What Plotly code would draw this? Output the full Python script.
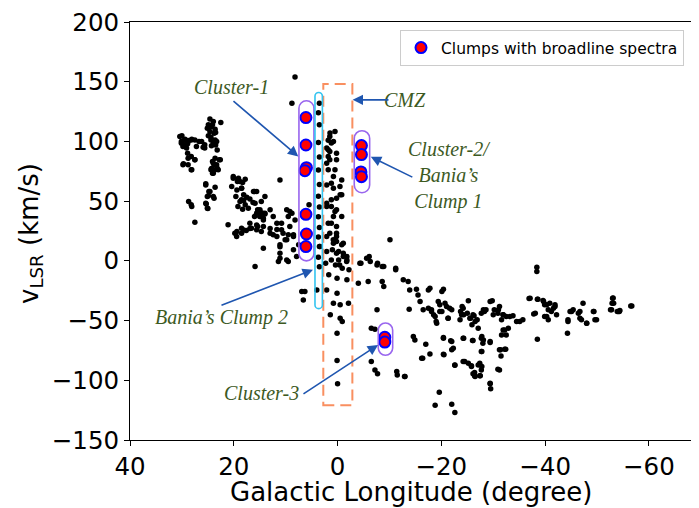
import plotly.graph_objects as go

# ---------------- data (Galactic longitude [deg], v_LSR [km/s]) ----------------
# background clumps, grouped by region of the l-v diagram
clumps_far_left = [
    (24.6, 118.7), (23.95, 116.7), (22.5, 115.8), (24.9, 113.9), (24.3, 112.5), (23.6, 110.3),
    (24.6, 108.3), (23.5, 107.5), (24.9, 104.8), (24.4, 103.6), (30.0, 104.7), (30.1, 99.9),
    (29.4, 101.9), (28.8, 100.8), (28.1, 101.9), (27.5, 101.3), (26.7, 99.9), (29.5, 97.2),
    (28.9, 98.0), (25.9, 95.2), (25.6, 97.2), (23.6, 101.3), (23.95, 98.6), (23.3, 99.9),
    (24.3, 96.3), (28.9, 90.2), (28.2, 87.4), (27.5, 84.6), (29.7, 81.3), (28.8, 80.4),
    (28.1, 76.2), (23.6, 85.9), (22.6, 84.6), (23.95, 81.8), (23.3, 80.4), (24.3, 77.4),
    (23.6, 76.2), (23.0, 76.2), (23.95, 73.4), (25.4, 64.5), (23.6, 61.7), (24.6, 58.1),
    (24.9, 54.5), (23.95, 53.9), (28.7, 49.7), (28.1, 45.5), (25.3, 47.7), (25.0, 43.8),
    (27.5, 32.4), (30.4, 104.1), (30.1, 98.5), (29.5, 101.3), (28.8, 99.9), (28.2, 101.3),
    (29.1, 94.4), (29.8, 95.8), (27.2, 95.8), (26.2, 99.9), (25.6, 94.4), (28.8, 86.0),
    (27.5, 84.6), (29.8, 80.4), (28.2, 76.2), (24.1, 113.9), (25.1, 111.1), (23.8, 106.9),
    (24.4, 101.3), (23.2, 92.9), (23.5, 97.1), (24.1, 83.2), (22.8, 84.6), (23.8, 80.4),
    (24.4, 76.2), (23.2, 77.6), (24.1, 73.4), (25.4, 63.6), (24.8, 58.0), (25.1, 53.8),
    (23.8, 52.4), (25.4, 48.2), (25.1, 44.0), (28.2, 46.9),
]

clumps_inner_left = [
    (19.1, 69.2), (17.8, 68.4), (19.3, 66.4), (18.3, 65.6), (18.5, 60.9), (17.5, 53.3),
    (18.1, 50.6), (16.9, 51.7), (17.8, 46.9), (17.2, 44.1), (18.3, 43.3), (16.0, 58.1),
    (14.7, 49.7), (16.3, 48.8), (15.4, 42.7), (14.4, 39.9), (15.0, 37.1), (16.0, 37.1),
    (21.1, 30.2), (19.45, 20.4), (18.5, 23.2), (17.6, 25.4), (16.6, 27.4), (15.4, 28.8),
    (14.7, 24.6), (15.9, -4.8), (20.1, 69.2), (18.8, 66.5), (19.4, 59.4), (18.1, 55.3),
    (18.8, 49.7), (16.2, 58.0), (15.9, 48.3), (14.96, 42.7), (14.0, 39.9), (13.0, 42.7),
    (14.3, 35.7), (12.4, 37.1), (11.1, 67.8), (9.2, 41.3), (9.5, 37.1), (8.2, 34.3),
    (10.8, 31.5), (11.7, 26.2), (13.0, 27.1), (14.3, 28.7), (15.6, 30.1), (16.9, 27.1),
    (18.1, 25.9), (19.4, 24.6), (9.5, 21.8), (10.1, 17.6), (11.1, 11.8), (12.4, 21.8),
    (14.3, 10.6), (11.1, 2.2), (9.5, -0.6), (8.5, 9.2), (7.5, 13.4), (5.5, 46.9),
    (20.1, 70.6), (19.2, 67.8), (20.4, 62.2), (18.5, 60.8), (19.6, 53.9), (15.6, 58.1),
    (14.0, 53.9), (19.2, 45.5), (18.5, 51.1), (15.6, 39.9), (14.96, 41.3), (14.0, 39.3),
    (14.3, 34.3), (16.9, 31.5), (18.5, 27.4), (19.8, 23.2), (9.8, 42.7), (9.2, 28.7),
    (10.5, 23.2), (11.7, 20.4), (13.0, 23.2), (11.1, 13.4), (9.8, 17.6), (8.5, 21.8),
    (15.6, 26.0), (11.1, 6.4), (9.8, 0.8), (7.9, 3.6), (11.4, -0.6), (10.8, 26.0),
    (11.7, 31.5), (8.8, 39.9), (8.5, 20.4), (8.8, 132.0), (8.2, 154.0), (6.9, -25.7),
]

clumps_galactic_centre = [
    (3.5, 132.0), (3.7, 124.0), (3.5, 114.0), (3.7, 99.0), (3.5, 87.0), (3.7, 76.0),
    (3.5, 64.0), (3.7, 54.0), (3.5, 45.0), (3.7, 37.0), (3.5, 28.0), (3.7, 20.0),
    (3.5, 12.0), (3.7, 3.0), (3.5, -5.0), (3.4, 12.0),
    (1.46, 107.0), (1.8, 101.0), (0.8, 100.0), (2.1, 94.4), (1.5, 91.6), (1.8, 87.4),
    (2.1, 81.8), (1.5, 84.6), (0.2, 84.6), (1.8, 76.2), (0.8, 70.6), (2.1, 63.6),
    (1.2, 65.0), (-0.46, 62.2), (-0.8, 55.3), (0.2, 52.5), (2.1, 48.3), (1.2, 45.5),
    (0.2, 42.7), (0.8, 37.1), (1.8, 31.5), (0.2, 28.7), (1.5, 23.2), (0.2, 20.4),
    (0.8, 14.8), (-0.8, 13.4), (2.1, 7.8), (0.2, 6.4), (-1.1, 3.6), (1.2, 0.8),
    (-0.4, -3.4), (-1.75, -0.6), (-4.5, -2.0), (0.5, 108.3), (1.5, 104.1), (1.2, 98.6),
    (1.8, 93.0), (0.2, 90.0), (0.5, 76.2), (-0.8, 67.8), (0.8, 60.8), (-0.5, 55.3),
    (1.2, 51.1), (2.1, 45.5), (0.5, 41.3), (-0.8, 37.1), (1.2, 31.5), (0.2, 23.2),
    (2.1, 20.4), (-1.1, 14.8), (-0.2, 7.8), (-1.8, 3.6), (0.83, 17.6), (0.2, 16.2),
    (-1.1, 6.4), (-0.2, 0.8), (-1.8, 0.8), (0.4, -3.4), (-0.9, -6.2), (-2.2, -7.5),
    (1.7, -11.7), (0.1, -14.5), (-1.8, -15.9), (2.3, -2.0), (1.0, 9.2),
    (6.3, -25.7), (6.6, -32.7), (4.0, -24.3), (2.1, -24.3), (0.1, -27.1), (0.8, -35.5),
    (-0.5, -36.8), (-2.1, -35.5), (1.4, -45.2), (-0.5, -48.0), (-0.9, -50.8), (0.1, -60.6),
    (0.1, -83.5), (0.0, -103.0),
]

clumps_near_right = [
    (-10.1, 17.6), (-4.3, -2.0), (-6.1, 3.6), (-7.7, -2.0), (-8.9, -4.8), (-11.2, -7.5),
    (-6.3, -0.6), (-5.6, 2.2), (-7.6, -3.4), (-8.6, -4.8), (-8.6, -17.3), (-8.9, -21.5),
    (-11.2, -6.2), (-4.0, -18.7), (-5.9, -17.3), (-7.6, -41.0), (-6.5, -56.4), (-7.2, -57.2),
    (-6.5, -84.3), (-7.2, -91.3), (-7.7, -94.6), (-11.4, -92.7), (-11.5, -95.5), (-13.0, -96.9),
    (-12.66, -15.9), (-13.6, -17.3), (-13.9, -24.3), (-15.2, -23.7), (-15.5, -28.5), (-15.9, -34.1),
    (-13.8, -40.5), (-17.8, -22.9), (-20.4, -23.7), (-20.1, -25.7), (-17.5, -24.3),
    (-14.6, -63.4), (-14.9, -66.2), (-12.9, -96.9), (-17.0, -69.8), (-16.2, -81.5), (-17.8, -77.9),
]

clumps_far_right = [
    (-16.5, -41.0), (-17.5, -39.6), (-18.1, -42.4), (-18.5, -45.2), (-19.0, -50.8), (-19.4, -34.1),
    (-19.7, -36.8), (-20.7, -35.5), (-21.6, -39.6), (-21.3, -48.0), (-20.1, -42.4), (-25.2, -33.5),
    (-24.0, -38.3), (-23.7, -42.4), (-24.3, -45.2), (-25.0, -43.8), (-25.6, -48.0), (-26.3, -46.0),
    (-26.9, -49.4), (-25.9, -53.6), (-28.3, -42.4), (-28.6, -41.0), (-29.8, -33.5), (-30.2, -41.0),
    (-31.2, -38.3), (-30.9, -43.8), (-31.9, -45.2), (-32.5, -46.6), (-33.8, -46.0), (-32.2, -57.8),
    (-32.5, -62.0), (-32.9, -56.4), (-35.1, -50.8), (-35.7, -49.4), (-36.9, -31.5), (-38.5, -32.1),
    (-38.4, -5.3), (-38.4, -8.9), (-37.8, -44.4), (-38.5, -65.6), (-39.7, -34.1), (-40.3, -36.8),
    (-40.6, -41.0), (-41.2, -42.4), (-41.9, -38.3), (-40.3, -46.6), (-42.2, -45.2), (-44.4, -49.4),
    (-44.3, -60.6), (-44.8, -42.4), (-45.4, -41.0), (-46.7, -42.4), (-47.0, -49.4), (-47.3, -35.5),
    (-48.0, -52.2), (-49.3, -42.4), (-49.6, -49.4), (-53.1, -31.2), (-53.2, -35.5), (-52.8, -41.0),
    (-54.1, -42.4), (-54.4, -41.6), (-56.7, -37.7),
    (-20.4, -64.2), (-20.4, -78.2), (-21.8, -67.0), (-22.0, -74.5), (-22.6, -87.4), (-24.3, -64.8),
    (-24.5, -84.3), (-25.2, -85.7), (-25.8, -88.5), (-26.0, -66.7), (-27.4, -85.7), (-27.8, -88.5),
    (-27.8, -63.4), (-28.1, -66.2), (-27.8, -75.9), (-26.4, -93.5), (-26.4, -96.3), (-27.5, -96.3),
    (-29.4, -67.6), (-31.2, -91.3), (-31.4, -74.5), (-31.5, -79.6), (-32.4, -74.0), (-29.4, -103.0),
    (-29.5, -107.0), (-19.6, -110.0), (-18.8, -121.0), (-22.0, -120.0), (-22.6, -127.0),
    (-18.1, -41.0), (-18.8, -46.6), (-19.1, -52.2), (-19.7, -42.4), (-21.0, -38.3), (-22.0, -41.0),
    (-21.3, -48.0), (-24.2, -39.6), (-23.9, -45.2), (-23.6, -49.4), (-25.5, -48.0), (-26.1, -45.2),
    (-26.5, -50.8), (-27.1, -56.4), (-27.7, -43.8), (-28.1, -41.0), (-29.4, -34.1), (-30.0, -45.2),
    (-31.0, -41.0), (-31.9, -45.2), (-31.6, -49.4), (-33.2, -46.6), (-34.5, -50.8), (-31.9, -57.8),
    (-31.6, -62.0), (-20.4, -64.8), (-22.0, -67.6), (-22.3, -73.2), (-16.4, -81.5), (-20.5, -78.7),
    (-24.2, -64.8), (-26.1, -66.7), (-27.7, -64.8), (-28.0, -68.9), (-29.4, -68.4), (-27.7, -75.9),
    (-31.2, -74.5), (-32.2, -74.0), (-22.6, -87.1), (-24.2, -84.3), (-25.8, -87.9), (-27.1, -87.1),
    (-27.7, -91.3), (-26.1, -94.6), (-26.5, -96.9), (-27.4, -96.3), (-30.9, -90.7), (-29.4, -102.4),
    (-37.1, -31.3), (-38.6, -32.1), (-38.1, -43.8), (-39.6, -33.2), (-39.9, -36.8), (-40.9, -35.5),
    (-41.9, -36.8), (-39.9, -46.6), (-40.6, -49.4), (-41.6, -39.6), (-44.4, -50.8), (-45.1, -42.4),
    (-46.4, -43.8), (-46.7, -48.0), (-48.0, -52.2), (-49.4, -42.4), (-49.9, -49.4), (-53.0, -31.3),
    (-52.9, -35.5), (-52.6, -41.0), (-53.9, -42.4), (-54.3, -42.4), (-56.5, -37.7),
]

# clumps with broadline spectra
broad_lon = [6.1, 6.1, 6.0, 6.3, 6.1, 6.0, 6.1, -4.6, -4.6, -4.5, -4.6, -9.1, -9.1]
broad_vel = [120.0, 97.0, 78.0, 75.5, 39.0, 22.5, 12.0, 96.5, 89.0, 74.5, 70.5, -64.0, -68.0]

x_ticks = [40, 20, 0, -20, -40, -60]
y_ticks = [-150, -100, -50, 0, 50, 100, 150, 200]

# ---------------- layout constants ----------------
# the html page body has an 8 px margin, so the figure is 8 px smaller and
# all page-pixel positions are shifted by that offset
PAGE_OFF = 8
W, H = 699 - PAGE_OFF, 508 - PAGE_OFF
PLOT_L, PLOT_R, PLOT_T, PLOT_B = 130, 692, 22, 440   # page pixels of the axes box
M_L, M_T = PLOT_L - PAGE_OFF, PLOT_T - PAGE_OFF
M_R, M_B = (699 - PLOT_R), (508 - PLOT_B)
X_RANGE = [40, -68.3]
Y_RANGE = [-150, 200]
plot_w = PLOT_R - PLOT_L
plot_h = PLOT_B - PLOT_T
px_per_deg = plot_w / (X_RANGE[0] - X_RANGE[1])
px_per_kms = plot_h / (Y_RANGE[1] - Y_RANGE[0])

bg = clumps_far_left + clumps_inner_left + clumps_galactic_centre + clumps_near_right + clumps_far_right
bg_lon = [p[0] for p in bg]
bg_vel = [p[1] for p in bg]

fig = go.Figure()
fig.add_trace(go.Scatter(x=bg_lon, y=bg_vel, mode="markers",
                         marker=dict(color="black", size=5.5, line=dict(width=0)),
                         showlegend=False, hoverinfo="skip"))
fig.add_trace(go.Scatter(x=broad_lon, y=broad_vel, mode="markers",
                         marker=dict(color="#ff0000", size=11, line=dict(color="#0000ff", width=2)),
                         name="Clumps with broadline spectra"))


def capsule(lc, v0, v1, half_px):
    rx = half_px / px_per_deg
    ry = half_px / px_per_kms
    k = 0.5523
    a, b = lc + rx, lc - rx
    tc, bc = v1 - ry, v0 + ry
    return (f"M {a},{bc} L {a},{tc} "
            f"C {a},{tc + k*ry} {lc + k*rx},{v1} {lc},{v1} "
            f"C {lc - k*rx},{v1} {b},{tc + k*ry} {b},{tc} "
            f"L {b},{bc} "
            f"C {b},{bc - k*ry} {lc - k*rx},{v0} {lc},{v0} "
            f"C {lc + k*rx},{v0} {a},{bc - k*ry} {a},{bc} Z")


PURPLE = "#9966ee"
CYAN = "#33c4f0"
ORANGE = "#f98f60"
shapes = [
    dict(type="rect", xref="x", yref="y", x0=2.75, x1=-2.85, y0=-121, y1=148,
         line=dict(color=ORANGE, width=2, dash="11px,6px"), layer="above"),
    dict(type="path", xref="x", yref="y", path=capsule(6.0, 0, 134, 7.5),
         line=dict(color=PURPLE, width=1.6)),
    dict(type="path", xref="x", yref="y", path=capsule(3.64, -40, 141, 3.7),
         line=dict(color=CYAN, width=1.6)),
    dict(type="path", xref="x", yref="y", path=capsule(-4.7, 57, 109, 7.7),
         line=dict(color=PURPLE, width=1.6)),
    dict(type="path", xref="x", yref="y", path=capsule(-9.23, -79, -52, 7.2),
         line=dict(color=PURPLE, width=1.6)),
]

TXT = dict(family="Liberation Serif", size=20, color="#3d5a1f")
ARROW = "#1f56b0"
annotations = []
labels = [
    ("<i>Cluster-1</i>", 20.35, 145.7),
    ("<i>CMZ</i>", -12.9, 134.8),
    ("<i>Cluster-2/<br>Bania’s<br>Clump 1</i>", -21.6, 71.5),
    ("<i>Bania’s Clump 2</i>", 22.3, -47.7),
    ("<i>Cluster-3</i>", 14.6, -110.5),
]
for t, lx, ly in labels:
    annotations.append(dict(text=t, x=lx, y=ly, xref="x", yref="y", showarrow=False,
                            font=TXT, align="center"))
arrows = [
    ((20.35, 134.8), (7.57, 87.4)),
    ((-10.1, 134.8), (-2.9, 134.8)),
    ((-14.7, 69.5), (-6.4, 87.1)),
    ((22.66, -37.7), (4.74, -7.5)),
    ((6.86, -112.2), (-7.8, -70.4)),
]
for (tx, ty), (hx, hy) in arrows:
    annotations.append(dict(text=" ", x=hx, y=hy, ax=tx, ay=ty, xref="x", yref="y",
                            axref="x", ayref="y", showarrow=True, arrowhead=2,
                            arrowsize=1.3, arrowwidth=1.6, arrowcolor=ARROW,
                            font=dict(size=1)))

# axis titles (placed like the reference)
TITLE_FONT = dict(family="DejaVu Sans", size=26, color="black")
annotations.append(dict(text="Galactic Longitude (degree)", xref="paper", yref="paper",
                        x=(411 - PLOT_L) / plot_w, y=-(492 - PLOT_B) / plot_h,
                        xanchor="center", yanchor="middle", showarrow=False, font=TITLE_FONT))
annotations.append(dict(text="v<sub>LSR</sub> (km/s)", xref="paper", yref="paper",
                        x=(30 - PLOT_L) / plot_w, y=(PLOT_B - 234) / plot_h,
                        xanchor="center", yanchor="middle", textangle=-90,
                        showarrow=False, font=TITLE_FONT))

axis_common = dict(showline=True, linecolor="black", linewidth=1, mirror=True,
                   ticks="outside", ticklen=5, tickwidth=1, tickcolor="black",
                   showgrid=False, zeroline=False, automargin=False,
                   ticklabeloverflow="allow",
                   tickfont=dict(family="DejaVu Sans", size=24.5, color="black"))

fig.update_layout(
    width=W, height=H,
    margin=dict(l=M_L, r=M_R, t=M_T, b=M_B, autoexpand=False),
    paper_bgcolor="white", plot_bgcolor="white",
    shapes=shapes, annotations=annotations,
    xaxis=dict(range=X_RANGE, tickvals=x_ticks, **axis_common),
    yaxis=dict(range=Y_RANGE, tickvals=y_ticks, **axis_common),
    legend=dict(x=(684 - PLOT_L) / plot_w, y=1 - (30 - PLOT_T) / plot_h,
                xanchor="right", yanchor="top",
                bgcolor="white", bordercolor="#cccccc", borderwidth=1,
                font=dict(family="DejaVu Sans", size=15.5, color="black")),
    showlegend=True,
)

fig.write_html("out.html")
